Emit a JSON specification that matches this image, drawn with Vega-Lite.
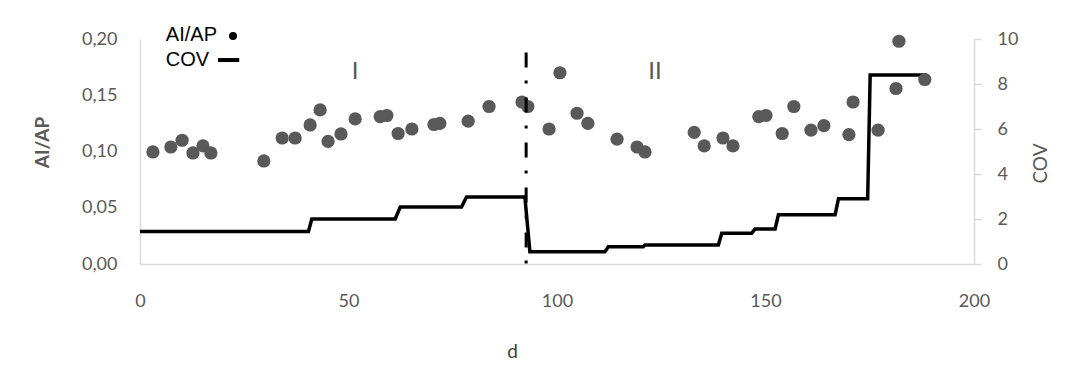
{
  "$schema": "https://vega.github.io/schema/vega-lite/v6.json",
  "width": 834,
  "height": 225,
  "autosize": {"type": "none"},
  "padding": {"left": 140, "top": 39, "right": 106, "bottom": 109},
  "background": "white",
  "config": {"view": {"stroke": null}, "axis": {"grid": false}},
  "datasets": {
    "pts": [
      {"d": 3.1, "aiap": 0.0996}, {"d": 7.4, "aiap": 0.104}, {"d": 10.1, "aiap": 0.110},
      {"d": 12.7, "aiap": 0.0987}, {"d": 15.1, "aiap": 0.105}, {"d": 17.0, "aiap": 0.0987},
      {"d": 29.7, "aiap": 0.0916}, {"d": 34.1, "aiap": 0.112}, {"d": 37.2, "aiap": 0.112},
      {"d": 40.8, "aiap": 0.1236}, {"d": 43.2, "aiap": 0.137}, {"d": 45.1, "aiap": 0.109},
      {"d": 48.2, "aiap": 0.1156}, {"d": 51.6, "aiap": 0.129}, {"d": 57.6, "aiap": 0.131},
      {"d": 59.2, "aiap": 0.132}, {"d": 61.9, "aiap": 0.116}, {"d": 65.2, "aiap": 0.120},
      {"d": 70.5, "aiap": 0.124}, {"d": 71.9, "aiap": 0.125}, {"d": 78.7, "aiap": 0.127},
      {"d": 83.7, "aiap": 0.140}, {"d": 91.6, "aiap": 0.144}, {"d": 93.0, "aiap": 0.140},
      {"d": 98.1, "aiap": 0.120}, {"d": 100.7, "aiap": 0.170}, {"d": 104.8, "aiap": 0.134},
      {"d": 107.4, "aiap": 0.125}, {"d": 114.4, "aiap": 0.111}, {"d": 119.2, "aiap": 0.104},
      {"d": 121.1, "aiap": 0.0996}, {"d": 132.9, "aiap": 0.117}, {"d": 135.3, "aiap": 0.105},
      {"d": 139.8, "aiap": 0.112}, {"d": 142.2, "aiap": 0.105}, {"d": 148.4, "aiap": 0.131},
      {"d": 150.1, "aiap": 0.132}, {"d": 154.0, "aiap": 0.116}, {"d": 156.8, "aiap": 0.140},
      {"d": 160.9, "aiap": 0.119}, {"d": 164.0, "aiap": 0.123}, {"d": 170.0, "aiap": 0.115},
      {"d": 171.0, "aiap": 0.144}, {"d": 177.0, "aiap": 0.119}, {"d": 181.3, "aiap": 0.156},
      {"d": 182.0, "aiap": 0.198}, {"d": 188.2, "aiap": 0.164}
    ],
    "cov": [
      {"d": 0, "cov": 1.45}, {"d": 40.4, "cov": 1.45}, {"d": 41.2, "cov": 2.0},
      {"d": 61.2, "cov": 2.0}, {"d": 62.4, "cov": 2.53}, {"d": 77.1, "cov": 2.53},
      {"d": 78.3, "cov": 2.98}, {"d": 92.3, "cov": 2.98}, {"d": 93.5, "cov": 0.55},
      {"d": 111.5, "cov": 0.55}, {"d": 112.3, "cov": 0.77}, {"d": 120.7, "cov": 0.77},
      {"d": 121.1, "cov": 0.85}, {"d": 138.7, "cov": 0.85}, {"d": 139.5, "cov": 1.37},
      {"d": 146.7, "cov": 1.37}, {"d": 147.5, "cov": 1.56}, {"d": 152.3, "cov": 1.56},
      {"d": 153.1, "cov": 2.19}, {"d": 166.7, "cov": 2.19}, {"d": 167.5, "cov": 2.9},
      {"d": 174.5, "cov": 2.9}, {"d": 175.1, "cov": 8.4}, {"d": 188.7, "cov": 8.4}
    ],
    "divider": [{"d": 92.6, "top": 0.188, "bottom": 0}],
    "zones": [{"d": 51.6, "v": 0.171, "label": "I"}, {"d": 123.5, "v": 0.171, "label": "II"}],
    "legendText": [{"d": 6.2, "v": 0.2036, "label": "AI/AP"}, {"d": 6.2, "v": 0.1813, "label": "COV"}],
    "legendDot": [{"d": 22.3, "v": 0.2027}],
    "legendDash": [{"d": 18.7, "d2": 23.8, "v": 0.1813}]
  },
  "layer": [
    {
      "data": {"name": "cov"},
      "mark": {"type": "line", "color": "black", "strokeWidth": 3.5, "strokeJoin": "miter"},
      "encoding": {
        "x": {
          "field": "d", "type": "quantitative", "scale": {"domain": [0, 200], "nice": false},
          "axis": {
            "orient": "bottom", "title": "d", "values": [0, 50, 100, 150, 200],
            "labelFlush": false, "labelOverlap": false,
            "domainColor": "#d9d9d9", "domainWidth": 1.5, "ticks": false,
            "labelFont": "Lato", "labelFontSize": 18, "labelColor": "#595959", "labelPadding": 28,
            "titleFont": "Lato", "titleFontSize": 19, "titleFontWeight": "normal", "titleColor": "#404040",
            "titleX": 372, "titleY": 87, "titleBaseline": "middle", "titleAlign": "center"
          }
        },
        "y": {
          "field": "cov", "type": "quantitative",
          "scale": {"domain": [0, 10], "nice": false},
          "axis": {
            "orient": "right", "title": "COV", "values": [0, 2, 4, 6, 8, 10],
            "domainColor": "#d9d9d9", "domainWidth": 1.5,
            "ticks": true, "tickColor": "#d9d9d9", "tickSize": 7, "tickWidth": 1.5,
            "labelFont": "Lato", "labelFontSize": 18, "labelColor": "#595959", "labelPadding": 16,
            "titleFont": "Lato", "titleFontSize": 19, "titleFontWeight": "normal", "titleColor": "#595959",
            "titleAngle": -90, "titleX": 66, "titleY": 124, "titleAlign": "center", "titleBaseline": "middle"
          }
        }
      }
    },
    {
      "layer": [
        {
          "data": {"name": "pts"},
          "mark": {"type": "circle", "color": "#595959", "opacity": 1, "size": 175},
          "encoding": {
            "x": {"field": "d", "type": "quantitative"},
            "y": {
              "field": "aiap", "type": "quantitative", "scale": {"domain": [0, 0.2], "nice": false},
              "axis": {
                "orient": "left", "title": "AI/AP", "values": [0, 0.05, 0.1, 0.15, 0.2],
                "labelExpr": "replace(format(datum.value, '.2f'), '.', ',')",
                "labelFlush": false,
                "domainColor": "#d9d9d9", "domainWidth": 1.5, "ticks": false,
                "labelFont": "Lato", "labelFontSize": 18, "labelColor": "#595959", "labelPadding": 23,
                "titleFont": "Lato", "titleFontSize": 19, "titleFontWeight": "bold", "titleColor": "#595959",
                "titleAngle": -90, "titleX": -98, "titleY": 103, "titleAlign": "center", "titleBaseline": "middle"
              }
            }
          }
        },
        {
          "data": {"name": "divider"},
          "mark": {"type": "rule", "color": "black", "strokeWidth": 3, "strokeDash": [15, 13, 3, 14]},
          "encoding": {
            "x": {"field": "d", "type": "quantitative"},
            "y": {"field": "top", "type": "quantitative"},
            "y2": {"field": "bottom"}
          }
        },
        {
          "data": {"name": "zones"},
          "mark": {"type": "text", "font": "Lato", "fontSize": 24, "color": "#595959", "align": "center", "baseline": "middle"},
          "encoding": {
            "x": {"field": "d", "type": "quantitative"},
            "y": {"field": "v", "type": "quantitative"},
            "text": {"field": "label"}
          }
        },
        {
          "data": {"name": "legendText"},
          "mark": {"type": "text", "font": "Liberation Sans", "fontSize": 20, "color": "black", "align": "left", "baseline": "middle"},
          "encoding": {
            "x": {"field": "d", "type": "quantitative"},
            "y": {"field": "v", "type": "quantitative"},
            "text": {"field": "label"}
          }
        },
        {
          "data": {"name": "legendDot"},
          "mark": {"type": "circle", "color": "black", "opacity": 1, "size": 64},
          "encoding": {
            "x": {"field": "d", "type": "quantitative"},
            "y": {"field": "v", "type": "quantitative"}
          }
        },
        {
          "data": {"name": "legendDash"},
          "mark": {"type": "rule", "color": "black", "strokeWidth": 4},
          "encoding": {
            "x": {"field": "d", "type": "quantitative"},
            "x2": {"field": "d2"},
            "y": {"field": "v", "type": "quantitative"}
          }
        }
      ]
    }
  ],
  "resolve": {"scale": {"y": "independent"}, "axis": {"y": "independent"}}
}
